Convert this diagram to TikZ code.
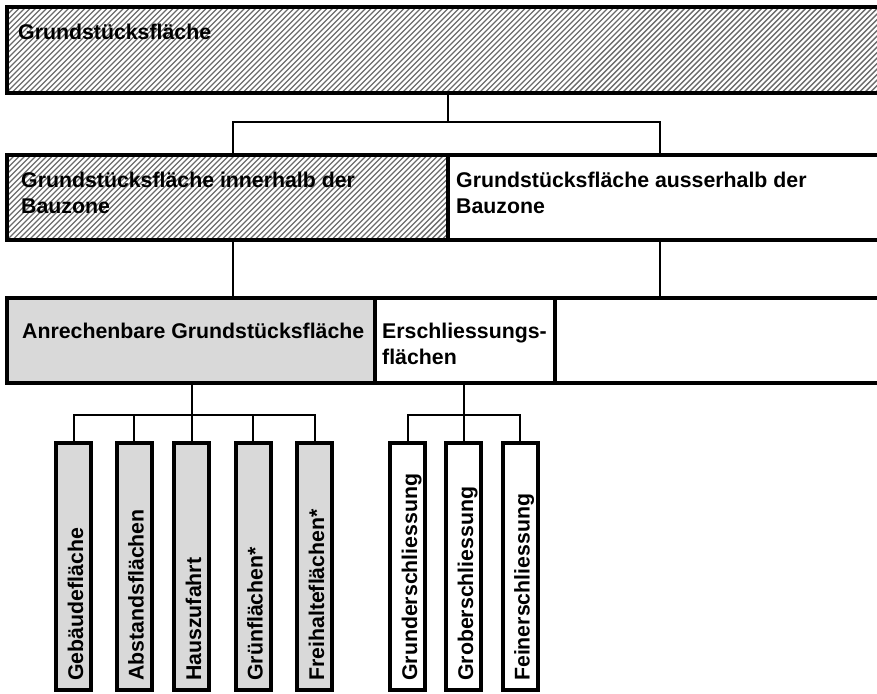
\documentclass[tikz,border=0pt]{standalone}
\usepackage{fontspec}
\setmainfont{Liberation Sans}
\usetikzlibrary{backgrounds}
\definecolor{boxgray}{HTML}{D9D9D9}
\begin{document}
\begin{tikzpicture}[x=1pt,y=-1pt,
  box/.style={draw, line width=4pt, rectangle, anchor=north west, inner sep=0pt, outer sep=0pt},
  vbox/.style={box, fill=boxgray, minimum width=35pt, minimum height=247pt},
  wvbox/.style={box, fill=white, minimum width=35pt, minimum height=247pt},
  lbl/.style={font=\bfseries\fontsize{21.3}{26}\selectfont, inner sep=0pt, anchor=base west, align=left},
  vlbl/.style={lbl, rotate=90},
  conn/.style={line width=2pt},
  hatch/.style={line width=1.4pt, black!58}]
\useasboundingbox (0,0) rectangle (877,693);
% boxes
\node[box, minimum width=890pt, minimum height=86pt] (top) at (7,7) {};
\node[box, minimum width=441pt, minimum height=85pt] (inb) at (7,155) {};
\node[box, minimum width=450pt, minimum height=85pt] (outb) at (448,155) {};
\node[box, fill=boxgray, minimum width=368pt, minimum height=85pt] (anb) at (7,298) {};
\node[box, minimum width=180pt, minimum height=85pt] (ersb) at (375,298) {};
\node[box, minimum width=340pt, minimum height=85pt] (rest) at (555,298) {};
% hatching
\begin{scope}[on background layer]
  \begin{scope}
    \clip (top.north west) rectangle (top.south east);
    \foreach \x in {-96,-90.5,...,904} \draw[hatch] (\x,96) -- ++(92,-92);
  \end{scope}
  \begin{scope}
    \clip (inb.north west) rectangle (inb.south east);
    \foreach \x in {-96,-90.5,...,456} \draw[hatch] (\x,244) -- ++(92,-92);
  \end{scope}
\end{scope}
% labels
\node[lbl] (ttop) at (18,40) {Grundstücksfläche};
\node[lbl] (tin) at (21,213) {Grundstücksfläche innerhalb der\\Bauzone};
\node[lbl] (tout) at (456,213) {Grundstücksfläche ausserhalb der\\Bauzone};
\node[lbl] (tanb) at (22,338) {Anrechenbare Grundstücksfläche};
\node[lbl] (ters) at (382,364) {Erschliessungs-\\flächen};
% vertical boxes
\node[vbox] (v1) at (56,443) {};
\node[vbox] (v2) at (116.5,443) {};
\node[vbox] (v3) at (174,443) {};
\node[vbox] (v4) at (235.5,443) {};
\node[vbox] (v5) at (297,443) {};
\node[wvbox] (e1) at (390,443) {};
\node[wvbox] (e2) at (446,443) {};
\node[wvbox] (e3) at (502.5,443) {};
\node[vlbl] (tv1) at ([xshift=9.5pt]v1.south |- 0,681) {Gebäudefläche};
\node[vlbl] (tv2) at ([xshift=9.5pt]v2.south |- 0,681) {Abstandsflächen};
\node[vlbl] (tv3) at ([xshift=9.5pt]v3.south |- 0,681) {Hauszufahrt};
\node[vlbl] (tv4) at ([xshift=9.5pt]v4.south |- 0,681) {Grünflächen*};
\node[vlbl] (tv5) at ([xshift=9.5pt]v5.south |- 0,681) {Freihalteflächen*};
\node[vlbl] (te1) at ([xshift=9.5pt]e1.south |- 0,681) {Grunderschliessung};
\node[vlbl] (te2) at ([xshift=9.5pt]e2.south |- 0,681) {Groberschliessung};
\node[vlbl] (te3) at ([xshift=9.5pt]e3.south |- 0,681) {Feinerschliessung};
% connectors
\coordinate (j1) at (448,122);
\coordinate (j1l) at (233,122);
\coordinate (j1r) at (660,122);
\draw[conn] (top.south -| j1) -- (j1);
\draw[conn] (inb.north -| j1l) |- (j1r) -- (outb.north -| j1r);
\draw[conn] (inb.south -| j1l) -- (anb.north -| j1l);
\draw[conn] (outb.south -| j1r) -- (rest.north -| j1r);
\coordinate (j2) at (191.5,415);
\draw[conn] (anb.south -| j2) -- (j2);
\draw[conn] (v1.north) |- (j2) -| (v5.north);
\foreach \v in {v2,v3,v4} \draw[conn] (\v.north) -- (\v.north |- j2);
\coordinate (j3) at (463.5,415);
\draw[conn] (ersb.south -| j3) -- (j3);
\draw[conn] (e1.north) |- (j3) -| (e3.north);
\draw[conn] (e2.north) -- (e2.north |- j3);
\end{tikzpicture}
\end{document}
